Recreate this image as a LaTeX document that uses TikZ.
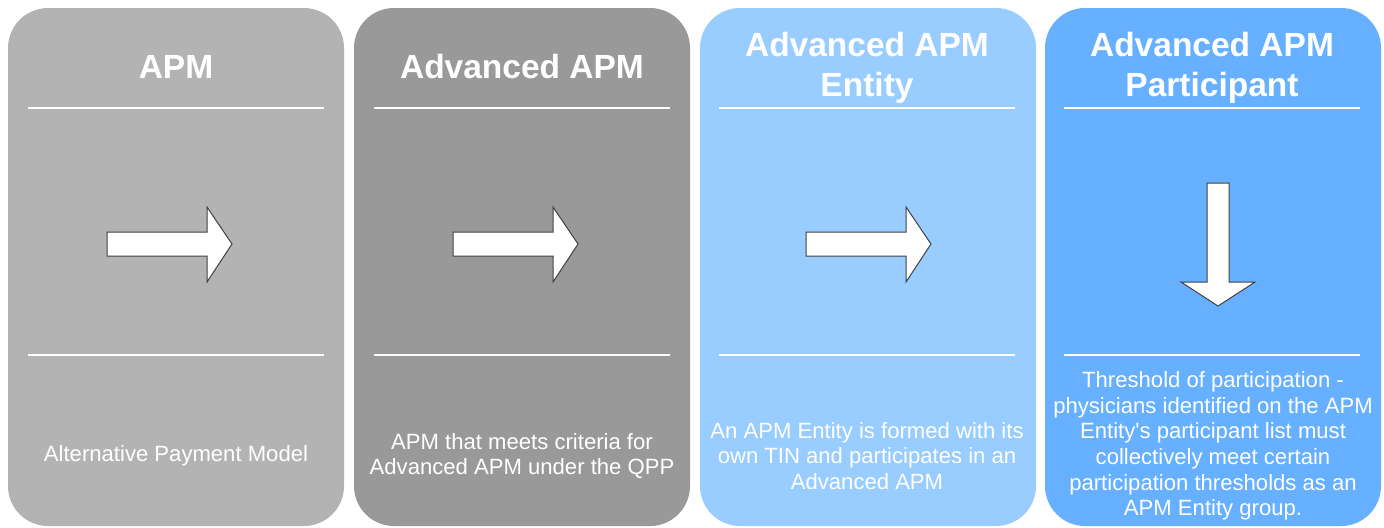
\documentclass[tikz,border=0pt]{standalone}
\usepackage{fontspec}
\setmainfont{Liberation Sans}
\usepackage{tikz}

\definecolor{apmgray}{HTML}{B3B3B3}
\definecolor{advgray}{HTML}{999999}
\definecolor{entityblue}{HTML}{99CCFF}
\definecolor{partblue}{HTML}{66B0FF}
\definecolor{arrowrim}{HTML}{404040}

\begin{document}
\begin{tikzpicture}[x=0.5pt,y=-0.5pt,
    card/.style={rounded corners=20pt, minimum width=168pt, minimum height=259pt, inner sep=0pt},
    heading/.style={text=white, font=\fontsize{16.75}{20}\selectfont\bfseries, align=center},
    blurb/.style={text=white, font=\fontsize{11.05}{12.8}\selectfont, align=center},
    sepline/.style={white, line width=1pt},
    blockarrow/.style={fill=white, draw=arrowrim, line width=0.5pt, line join=miter}]
  \useasboundingbox (0,0) rectangle (1384,527);

  % The four cards
  \node[card, fill=apmgray] (apm) at (176,267) {};
  \node[card, fill=advgray] (adv) at (522,267) {};
  \node[card, fill=entityblue] (entity) at (868,267) {};
  \node[card, fill=partblue] (part) at (1213,267) {};

  % Headings
  \node[heading] (apmtitle) at (176,67) {APM};
  \node[heading] (advtitle) at (522,67) {Advanced APM};
  \node[heading] (entitytitle) at (867,68) {Advanced APM\\Entity};
  \node[heading] (parttitle) at (1212,68) {Advanced APM\\Participant};

  % Separator lines
  \foreach \cx in {176,522,867,1212} {
    \draw[sepline] (\cx-148,108) -- (\cx+148,108);
    \draw[sepline] (\cx-148,355) -- (\cx+148,355);
  }

  % Block arrows
  \foreach \ax in {107,453,806} {
    \draw[blockarrow] (\ax,232) -- (\ax+100,232) -- (\ax+100,207) -- (\ax+125,244)
      -- (\ax+100,282) -- (\ax+100,256) -- (\ax,256) -- cycle;
  }
  \draw[blockarrow] (1207,183) -- (1229,183) -- (1229,282) -- (1255,282) -- (1218,306)
    -- (1181,282) -- (1207,282) -- cycle;

  % Descriptions
  \node[blurb] (apmtext) at (176,456) {Alternative Payment Model};
  \node[blurb] (advtext) at (522,456) {APM that meets criteria for\\Advanced APM under the QPP};
  \node[blurb] (entitytext) at (867,456) {An APM Entity is formed with its\\own TIN and participates in an\\Advanced APM};
  \node[blurb] (parttext) at (1213,446) {Threshold of participation -\\physicians identified on the APM\\Entity\textquotesingle s participant list must\\collectively meet certain\\participation thresholds as an\\APM Entity group.};
\end{tikzpicture}
\end{document}
